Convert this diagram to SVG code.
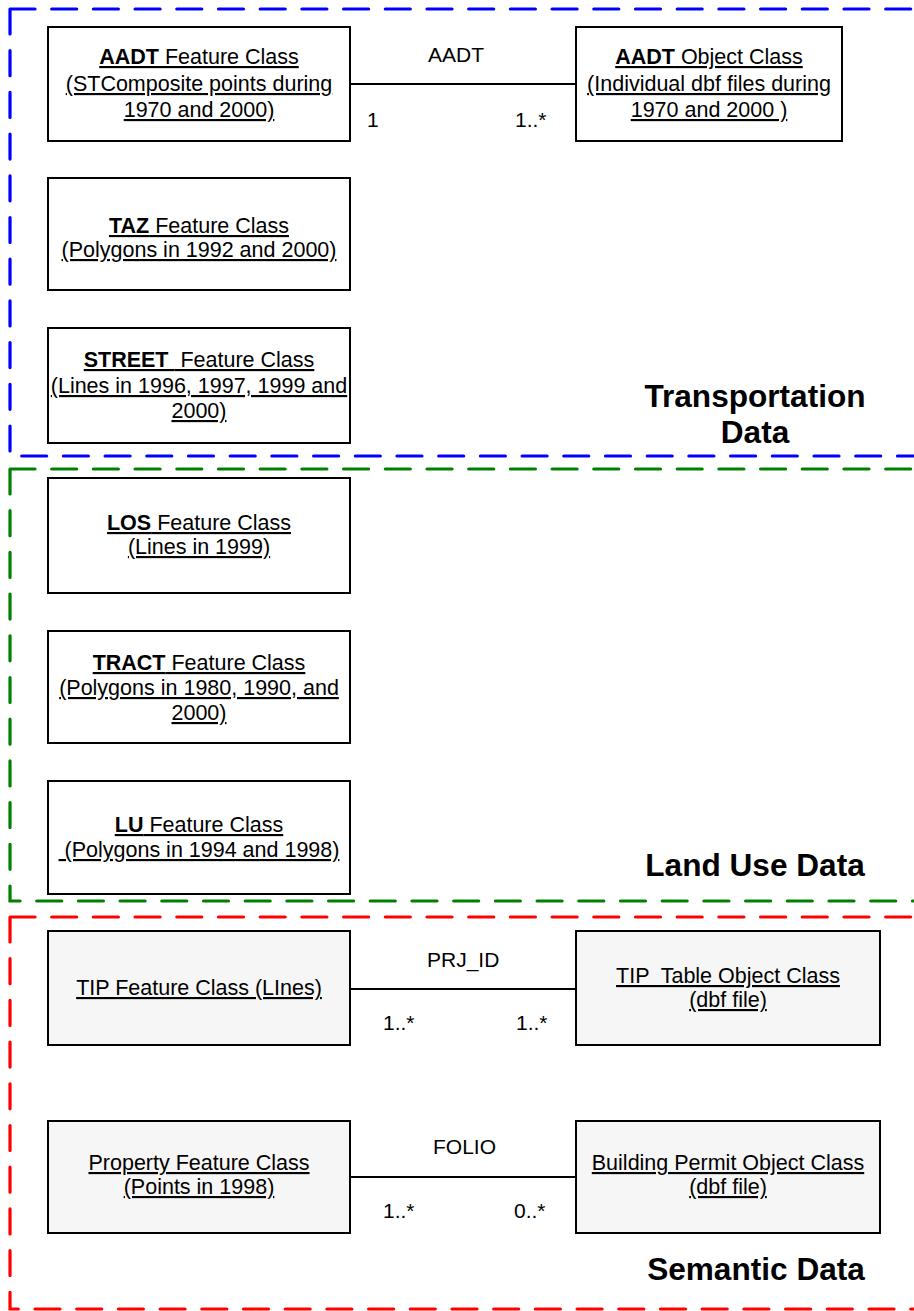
<svg xmlns="http://www.w3.org/2000/svg" width="914" height="1311" viewBox="0 0 914 1311">
<style>
.frame{fill:none;stroke-width:3.2;stroke-dasharray:25 16.7;stroke-linecap:round}
.box{fill:#ffffff;stroke:#000;stroke-width:2}
.sbox{fill:#f6f6f6;stroke:#000;stroke-width:2}
.t{font-family:"Liberation Sans",Arial,sans-serif;font-size:21.5px;fill:#000;text-anchor:middle;text-decoration:underline}
.lbl{font-family:"Liberation Sans",Arial,sans-serif;font-size:21px;fill:#000}
.title{font-family:"Liberation Sans",Arial,sans-serif;font-size:31.6px;font-weight:bold;fill:#000;text-anchor:middle}
.b{font-weight:bold}
.conn{stroke:#000;stroke-width:2;fill:none}
</style>
<rect width="914" height="1311" fill="#fff"/>
<g id="frames">
<path class="frame" stroke="#0000ff" d="M10,9 H930 M10,9 V456 H930"/>
<path class="frame" stroke="#008000" d="M10,469 H930 M10,469 V901 H930"/>
<path class="frame" stroke="#ff0000" d="M10,917 H930 M10,917 V1309 H930"/>
</g>
<g id="connectors">
<line class="conn" x1="336" y1="84" x2="576" y2="84"/>
<line class="conn" x1="350" y1="989" x2="576" y2="989"/>
<line class="conn" x1="350" y1="1177" x2="576" y2="1177"/>
<text class="lbl" x="428" y="62">AADT</text>
<text class="lbl" x="367" y="127">1</text>
<text class="lbl" x="515" y="127">1..*</text>
<text class="lbl" x="427" y="967">PRJ_ID</text>
<text class="lbl" x="383" y="1030">1..*</text>
<text class="lbl" x="516" y="1030">1..*</text>
<text class="lbl" x="433" y="1154">FOLIO</text>
<text class="lbl" x="383" y="1218">1..*</text>
<text class="lbl" x="514" y="1218">0..*</text>
</g>
<g id="aadt-feature">
<rect class="box" x="48" y="27" width="302" height="114"/>
<text class="t" x="199" y="64"><tspan class="b">AADT</tspan> Feature Class</text>
<text class="t" x="199" y="91">(STComposite points during</text>
<text class="t" x="199" y="117">1970 and 2000)</text>
</g>
<g id="aadt-object">
<rect class="box" x="576" y="27" width="266" height="114"/>
<text class="t" x="709" y="64"><tspan class="b">AADT</tspan> Object Class</text>
<text class="t" x="709" y="91">(Individual dbf files during</text>
<text class="t" x="709" y="117" xml:space="preserve">1970 and 2000 )</text>
</g>
<g id="taz">
<rect class="box" x="48" y="178" width="302" height="112"/>
<text class="t" x="199" y="233"><tspan class="b">TAZ</tspan> Feature Class</text>
<text class="t" x="199" y="257">(Polygons in 1992 and 2000)</text>
</g>
<g id="street">
<rect class="box" x="48" y="328" width="302" height="115"/>
<text class="t" x="199" y="367" xml:space="preserve"><tspan class="b">STREET </tspan> Feature Class</text>
<text class="t" x="199" y="393">(Lines in 1996, 1997, 1999 and</text>
<text class="t" x="199" y="418">2000)</text>
</g>
<text class="title" x="755" y="407">Transportation</text>
<text class="title" x="755" y="443">Data</text>
<g id="los">
<rect class="box" x="48" y="478" width="302" height="115"/>
<text class="t" x="199" y="530"><tspan class="b">LOS</tspan> Feature Class</text>
<text class="t" x="199" y="554">(Lines in 1999)</text>
</g>
<g id="tract">
<rect class="box" x="48" y="631" width="302" height="112"/>
<text class="t" x="199" y="670"><tspan class="b">TRACT</tspan> Feature Class</text>
<text class="t" x="199" y="695">(Polygons in 1980, 1990, and</text>
<text class="t" x="199" y="720">2000)</text>
</g>
<g id="lu">
<rect class="box" x="48" y="781" width="302" height="113"/>
<text class="t" x="199" y="832"><tspan class="b">LU</tspan> Feature Class</text>
<text class="t" x="199" y="857" xml:space="preserve"> (Polygons in 1994 and 1998)</text>
</g>
<text class="title" x="755" y="876">Land Use Data</text>
<g id="tip-feature">
<rect class="sbox" x="48" y="931" width="302" height="114"/>
<text class="t" x="199" y="995">TIP Feature Class (LInes)</text>
</g>
<g id="tip-table">
<rect class="sbox" x="576" y="931" width="304" height="114"/>
<text class="t" x="728" y="983" xml:space="preserve">TIP  Table Object Class</text>
<text class="t" x="728" y="1007">(dbf file)</text>
</g>
<g id="property">
<rect class="sbox" x="48" y="1121" width="302" height="112"/>
<text class="t" x="199" y="1170">Property Feature Class</text>
<text class="t" x="199" y="1194">(Points in 1998)</text>
</g>
<g id="building-permit">
<rect class="sbox" x="576" y="1121" width="304" height="112"/>
<text class="t" x="728" y="1170">Building Permit Object Class</text>
<text class="t" x="728" y="1194">(dbf file)</text>
</g>
<text class="title" x="756" y="1280">Semantic Data</text>
</svg>
